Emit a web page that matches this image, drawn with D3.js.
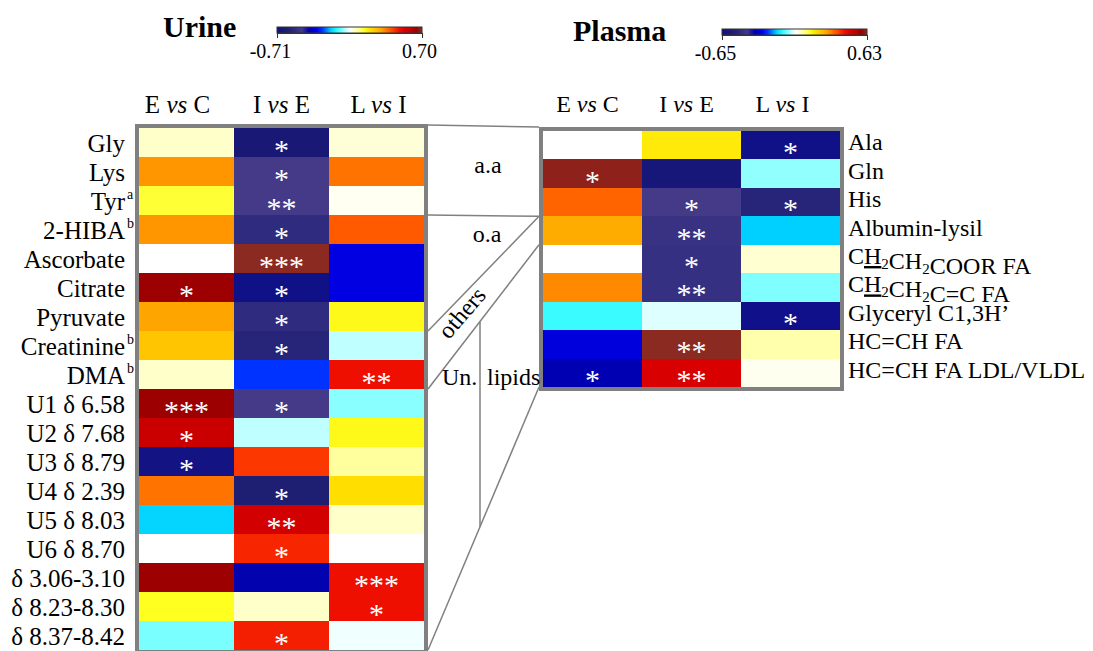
<!DOCTYPE html>
<html>
<head>
<meta charset="utf-8">
<script src="https://cdn.jsdelivr.net/npm/d3@7"></script>
<style>
  body { margin: 0; background: #fff; }
  svg { display: block; font-family: "Liberation Serif", "Times New Roman", serif; }
</style>
</head>
<body>
<svg id="chart" width="1093" height="651"></svg>
<script>
// comparisons (columns) shared by both panels
const comparisons = ['E vs C', 'I vs E', 'L vs I'];

// ---- urine ----
const urineRows = ['Gly', 'Lys', 'Tyr^a', '2-HIBA^b', 'Ascorbate', 'Citrate', 'Pyruvate',
  'Creatinine^b', 'DMA^b', 'U1 δ 6.58', 'U2 δ 7.68', 'U3 δ 8.79', 'U4 δ 2.39', 'U5 δ 8.03',
  'U6 δ 8.70', 'δ 3.06-3.10', 'δ 8.23-8.30', 'δ 8.37-8.42'];
const urineValues = [
  [0.04, -0.64, 0.03],
  [0.32, -0.47, 0.36],
  [0.13, -0.47, 0.01],
  [0.32, -0.53, 0.39],
  [0.00, 0.70, -0.33],
  [0.64, -0.70, -0.33],
  [0.30, -0.53, 0.15],
  [0.25, -0.57, -0.04],
  [0.04, -0.27, 0.48],
  [0.64, -0.47, -0.07],
  [0.57, -0.04, 0.15],
  [-0.69, 0.43, 0.08],
  [0.36, -0.61, 0.20],
  [-0.18, 0.55, 0.04],
  [0.00, 0.45, 0.00],
  [0.64, -0.40, 0.48],
  [0.14, 0.04, 0.48],
  [-0.08, 0.46, -0.01]
];
const urineStars = [
  ['', '*', ''], ['', '*', ''], ['', '**', ''], ['', '*', ''], ['', '***', ''],
  ['*', '*', ''], ['', '*', ''], ['', '*', ''], ['', '', '**'], ['***', '*', ''],
  ['*', '', ''], ['*', '', ''], ['', '*', ''], ['', '**', ''], ['', '*', ''],
  ['', '', '***'], ['', '', '*'], ['', '*', '']
];
const urineRange = [-0.71, 0.70];

// ---- plasma ----
const plasmaRows = ['Ala', 'Gln', 'His', 'Albumin-lysil', 'C_H_{2}CH{2}COOR FA',
  'C_H_{2}CH{2}C=C FA', 'Glyceryl C1,3H’', 'HC=CH FA', 'HC=CH FA LDL/VLDL'];
const plasmaValues = [
  [0.00, 0.16, -0.64],
  [0.62, -0.60, -0.06],
  [0.34, -0.43, -0.52],
  [0.26, -0.46, -0.17],
  [0.00, -0.47, 0.03],
  [0.30, -0.47, -0.07],
  [-0.11, -0.02, -0.65],
  [-0.31, 0.63, 0.06],
  [-0.36, 0.48, 0.01]
];
const plasmaStars = [
  ['', '', '*'], ['*', '', ''], ['', '*', '*'], ['', '**', ''], ['', '*', ''],
  ['', '**', ''], ['', '', '*'], ['', '**', ''], ['*', '**', '']
];
const plasmaRange = [-0.65, 0.63];

// colormap: position in [-1, 1] relative to the panel's min / max
const mapStops = [-1, -0.88, -0.76, -0.66, -0.56, -0.46, -0.38, -0.26, -0.16, -0.1, -0.05, 0,
  0.05, 0.12, 0.2, 0.28, 0.36, 0.44, 0.52, 0.6, 0.68, 0.76, 0.84, 0.92, 1];
const mapColors = ['#10108a', '#1b1b70', '#2c2a7e', '#443a88', '#0000b0', '#0000e6', '#0033ff',
  '#00d2ff', '#40ffff', '#88ffff', '#c8ffff', '#ffffff', '#ffffd0', '#ffff99', '#ffff20',
  '#ffe000', '#ffc400', '#ffa000', '#ff7000', '#ff4000', '#f01000', '#d80000', '#c40000',
  '#990000', '#8b2a20'];

const gray = '#808080';
const svg = d3.select('#chart');

function colorFor(range) {
  const [lo, hi] = range;
  return d3.scaleLinear()
    .domain(mapStops.map(t => t < 0 ? -t * lo : t * hi))
    .range(mapColors)
    .clamp(true);
}

// tiny markup: _X_ underline, {2} subscript
function richLabel(sel, str) {
  str.split(/(_[^_]+_|\{[^}]+\})/).filter(s => s).forEach(part => {
    if (part[0] === '_') {
      sel.append('tspan').attr('text-decoration', 'underline').text(part.slice(1, -1));
    } else if (part[0] === '{') {
      sel.append('tspan').attr('dy', 5).attr('font-size', 15).text(part.slice(1, -1));
      sel.append('tspan').attr('dy', -5).text('');
    } else {
      sel.append('tspan').text(part);
    }
  });
}

function drawPanel(p) {
  const x = d3.scaleBand().domain(comparisons).range(p.xRange);
  const y = d3.scaleBand().domain(p.rows).range(p.yRange);
  const color = colorFor(p.range);

  const cells = [];
  p.rows.forEach((r, i) => comparisons.forEach((c, j) => {
    cells.push({ row: r, col: c, value: p.values[i][j], stars: p.stars[i][j] });
  }));

  const g = svg.append('g');
  g.selectAll('rect.cell').data(cells).join('rect')
    .attr('class', 'cell')
    .attr('x', d => x(d.col))
    .attr('y', d => y(d.row))
    .attr('width', x.bandwidth() + 0.5)
    .attr('height', y.bandwidth() + 0.5)
    .attr('fill', d => color(d.value))
    .attr('shape-rendering', 'crispEdges');

  g.selectAll('text.star').data(cells.filter(d => d.stars)).join('text')
    .attr('class', 'star')
    .attr('x', d => x(d.col) + x.bandwidth() / 2)
    .attr('y', d => y(d.row) + y.bandwidth() / 2 + 17)
    .attr('text-anchor', 'middle')
    .attr('font-size', 30)
    .attr('fill', '#fff')
    .text(d => d.stars);

  // frame
  g.append('rect')
    .attr('x', p.xRange[0] - 2).attr('y', p.yRange[0] - 2)
    .attr('width', p.xRange[1] - p.xRange[0] + 4)
    .attr('height', p.yRange[1] - p.yRange[0] + 4)
    .attr('fill', 'none').attr('stroke', gray).attr('stroke-width', 4);

  // column headers
  comparisons.forEach((c, j) => {
    const [a, b] = c.split(' vs ');
    const t = g.append('text')
      .attr('x', x(c) + x.bandwidth() / 2 + p.headShift[j])
      .attr('y', p.headY)
      .attr('text-anchor', 'middle')
      .attr('font-size', p.headSize);
    t.append('tspan').text(a + ' ');
    t.append('tspan').attr('font-style', 'italic').text('vs');
    t.append('tspan').text(' ' + b);
  });

  // row labels
  p.rows.forEach(r => {
    const cy = y(r) + y.bandwidth() / 2;
    if (p.side === 'left') {
      const [name, sup] = r.split('^');
      g.append('text').attr('x', p.labelX).attr('y', cy + 9)
        .attr('text-anchor', 'end').attr('font-size', 25).text(name);
      if (sup) {
        g.append('text').attr('x', p.labelX + 2).attr('y', cy - 2)
          .attr('font-size', 14).text(sup);
      }
    } else {
      const t = g.append('text').attr('x', p.labelX).attr('y', cy + 5)
        .attr('font-size', 24);
      richLabel(t, r);
    }
  });

  // title
  g.append('text').attr('x', p.titleX).attr('y', p.titleY)
    .attr('font-size', 30).attr('font-weight', 'bold').text(p.title);

  // colour bar
  const cb = d3.scaleLinear().domain(p.range).range(p.barX);
  const gradId = 'grad-' + p.title;
  const grad = svg.append('defs').append('linearGradient').attr('id', gradId);
  mapStops.forEach((t, k) => {
    const v = t < 0 ? -t * p.range[0] : t * p.range[1];
    grad.append('stop')
      .attr('offset', (v - p.range[0]) / (p.range[1] - p.range[0]))
      .attr('stop-color', mapColors[k]);
  });
  g.append('rect')
    .attr('x', p.barX[0]).attr('y', p.barY)
    .attr('width', p.barX[1] - p.barX[0]).attr('height', 6)
    .attr('fill', `url(#${gradId})`)
    .attr('stroke', '#333').attr('stroke-width', 1);
  const ax = g.append('g').attr('transform', `translate(0,${p.barY + 6})`)
    .call(d3.axisBottom(cb).tickValues(p.range).tickSize(5).tickPadding(6)
      .tickFormat(d => d.toFixed(2)));
  ax.selectAll('path, line').attr('stroke', '#333');
  ax.selectAll('text').attr('font-size', 20).attr('font-family', 'Liberation Serif')
    .attr('dx', d => d < 0 ? -7 : -3).attr('fill', '#000');

  return { x, y };
}

const U = drawPanel({
  title: 'Urine', titleX: 163, titleY: 37,
  rows: urineRows, values: urineValues, stars: urineStars, range: urineRange,
  xRange: [139, 424], yRange: [128, 650], side: 'left', labelX: 125,
  headY: 113, headSize: 25, headShift: [-9, 0, 2], barX: [277, 422], barY: 27
});
const P = drawPanel({
  title: 'Plasma', titleX: 573, titleY: 41,
  rows: plasmaRows, values: plasmaValues, stars: plasmaStars, range: plasmaRange,
  xRange: [543, 840], yRange: [131, 387], side: 'right', labelX: 848,
  headY: 112, headSize: 24, headShift: [-5, -5, -8], barX: [722, 867], barY: 29
});

// connectors between urine and plasma groups
const xl = 428, xr = 539;
const links = [
  [125, 127],
  [U.y('2-HIBA^b'), P.y('Albumin-lysil')],
  [U.y('Creatinine^b'), P.y('Albumin-lysil')],
  [U.y('U1 δ 6.58'), P.y('C_H_{2}CH{2}COOR FA')],
  [650, 387]
];
const conn = svg.append('g').attr('stroke', gray).attr('stroke-width', 1.5).attr('fill', 'none');
links.forEach(([a, b]) => {
  conn.append('line').attr('x1', xl).attr('y1', a).attr('x2', xr).attr('y2', b);
});
const lerp = (l, xv) => l[0] + (l[1] - l[0]) * (xv - xl) / (xr - xl);
const vx = 480;
conn.append('line').attr('x1', vx).attr('x2', vx)
  .attr('y1', lerp(links[3], vx)).attr('y2', lerp(links[4], vx));

const groupText = svg.append('g').attr('font-size', 24);
groupText.append('text').attr('x', 488).attr('y', 173).attr('text-anchor', 'middle').text('a.a');
groupText.append('text').attr('x', 487).attr('y', 242).attr('text-anchor', 'middle').text('o.a');
groupText.append('text').attr('transform', 'translate(468,318) rotate(-49)')
  .attr('text-anchor', 'middle').text('others');
groupText.append('text').attr('x', 442).attr('y', 385).text('Un.');
groupText.append('text').attr('x', 487).attr('y', 385).text('lipids');
</script>
</body>
</html>
